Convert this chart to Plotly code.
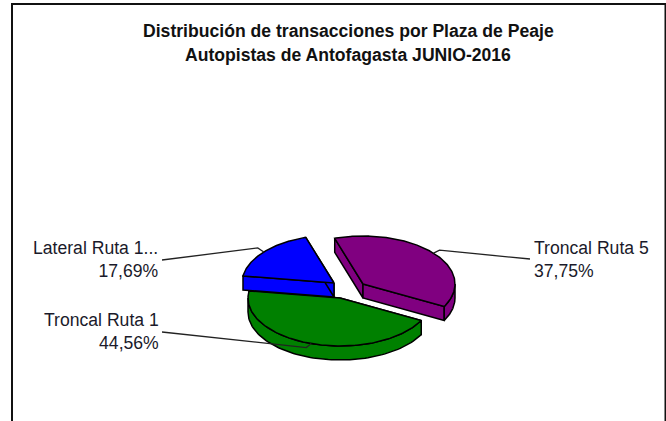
import numpy as np
import plotly.graph_objects as go

# Data
plazas = ["Troncal Ruta 1", "Lateral Ruta 1...", "Troncal Ruta 5"]
shares = [44.56, 17.69, 37.75]
colors = ["#008000", "#0000FF", "#800080"]
title_lines = ["Distribución de transacciones por Plaza de Peaje",
               "Autopistas de Antofagasta JUNIO-2016"]

# Pie projection (pixel space of the page)
W, H = 666, 421
CX, CY = 340, 298
A, B = 92, 48
DEPTH = 14
START = 28.0
PULL = [(0, 0), (-6, -15), (23, -14)]
ELBOW = [(-5, 4), (-6, -4), (6, -3)]
TAIL = [(162, 332), (162, 260), (530, 259)]
LABEL_POS = [(161, 331), (161, 259), (532, 259)]
LABEL_ANCHOR = ["right", "right", "left"]

OUTLINE = dict(color="black", width=1.5)


def rim(t, c):
    t = np.radians(t)
    return c[0] + A * np.cos(t), c[1] + B * np.sin(t)


def poly(fig, xs, ys, color):
    fig.add_trace(go.Scatter(x=xs, y=ys, mode="lines", fill="toself", fillcolor=color,
                             line=OUTLINE, hoverinfo="skip", showlegend=False))


def side(fig, t, c, color):
    x, y = rim(t, c)
    poly(fig, [c[0], x, x, c[0], c[0]],
         [c[1], y, y + DEPTH, c[1] + DEPTH, c[1]], color)


def outer(fig, t0, t1, c, color):
    # only the front half of the rim (sin t > 0) is visible
    for k in (0, 360):
        lo, hi = max(t0, k), min(t1, k + 180)
        if hi > lo:
            ts = np.linspace(lo, hi, 80)
            x, y = rim(ts, c)
            poly(fig, np.r_[x, x[::-1], x[0]], np.r_[y, y[::-1] + DEPTH, y[0]], color)


def top(fig, t0, t1, c, color):
    ts = np.linspace(t0, t1, 160)
    x, y = rim(ts, c)
    poly(fig, np.r_[c[0], x, c[0]], np.r_[c[1], y, c[1]], color)


fig = go.Figure()

angles = START + np.r_[0, np.cumsum(shares)] * 3.6
centers = [(CX + dx, CY + dy) for dx, dy in PULL]

for i in range(len(shares)):
    t0, t1 = angles[i], angles[i + 1]
    c = centers[i]
    side(fig, t0, c, colors[i])
    side(fig, t1, c, colors[i])
    outer(fig, t0, t1, c, colors[i])
    top(fig, t0, t1, c, colors[i])

annotations = []
for i, (name, share) in enumerate(zip(plazas, shares)):
    mid = (angles[i] + angles[i + 1]) / 2
    px, py = rim(mid, centers[i])
    ex, ey = px + ELBOW[i][0], py + ELBOW[i][1]
    fig.add_trace(go.Scatter(x=[px, ex, TAIL[i][0]], y=[py, ey, TAIL[i][1]], mode="lines",
                             line=dict(color="#222222", width=1.3),
                             hoverinfo="skip", showlegend=False))
    pct = f"{share:.2f}".replace(".", ",")
    annotations.append(dict(
        x=LABEL_POS[i][0], y=LABEL_POS[i][1], xref="x", yref="y",
        text=f"{name}<br>{pct}%",
        showarrow=False, xanchor=LABEL_ANCHOR[i], yanchor="middle", align=LABEL_ANCHOR[i],
        font=dict(family="Liberation Sans", size=17.6, color="#1a1a2a")))

for line, y in zip(title_lines, (31, 54.5)):
    annotations.append(dict(x=348, y=y, xref="x", yref="y", text=f"<b>{line}</b>",
                            showarrow=False, xanchor="center", yanchor="middle",
                            font=dict(family="Liberation Sans", size=17.6, color="#111111")))

frame = [
    dict(type="line", xref="x", yref="y", x0=12, y0=4, x1=W, y1=4,
         line=dict(color="#111111", width=2)),
    dict(type="line", xref="x", yref="y", x0=12, y0=3, x1=12, y1=H,
         line=dict(color="#111111", width=2)),
    dict(type="line", xref="x", yref="y", x0=665.5, y0=4, x1=665.5, y1=H,
         line=dict(color="#111111", width=2)),
]

fig.update_layout(
    width=W, height=H, margin=dict(l=0, r=0, t=0, b=0),
    paper_bgcolor="white", plot_bgcolor="white",
    xaxis=dict(range=[0, W], visible=False, fixedrange=True),
    yaxis=dict(range=[H, 0], visible=False, fixedrange=True),
    shapes=frame, annotations=annotations, showlegend=False,
)

fig.write_html("out.html", config={"displayModeBar": False},
               post_script="document.body.style.margin='0';document.documentElement.style.overflow='hidden';")
